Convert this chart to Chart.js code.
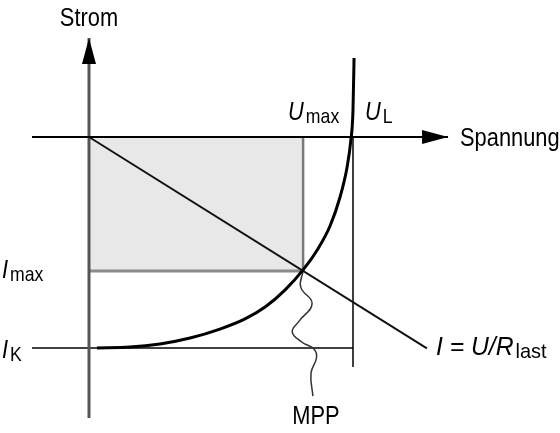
<!DOCTYPE html>
<html>
<head>
<meta charset="utf-8">
<script src="https://cdn.jsdelivr.net/npm/chart.js@4/dist/chart.umd.min.js"></script>
<style>
  html, body { margin: 0; padding: 0; background: #fff; }
  #kennlinie { display: block; }
</style>
</head>
<body>
<canvas id="kennlinie" width="560" height="433"></canvas>
<script>
// Kennlinie (Spannung normiert auf U_L = 1, Strom auf I_K = -1)
var spannung = [0.03, 0.155, 0.269, 0.383, 0.496, 0.591, 0.667, 0.742, 0.811, 0.867, 0.913, 0.951, 0.977, 0.992, 1.0, 1.004];
var strom    = [-0.995, -0.991, -0.976, -0.948, -0.906, -0.858, -0.802, -0.722, -0.627, -0.528, -0.42, -0.283, -0.146, -0.014, 0.127, 0.373];

// Kennwerte
var uMax = 0.811;
var uL = 1.0;
var iMax = -0.632;
var iK = -0.995;

// Lastgerade I = U/R_last
var lastU = [0, 1.28];
var lastI = [0, -0.997];

// Hinweislinie MPP (geschlaengelt)
var mppU = [0.811, 0.802, 0.845, 0.795, 0.77, 0.807, 0.852, 0.862, 0.841, 0.848];
var mppI = [-0.632, -0.708, -0.785, -0.87, -0.92, -0.968, -1.0, -1.04, -1.113, -1.222];

// Achsen (Anfang, Pfeilspitze)
var achseU = [-0.216, 1.36];
var achseI = [-1.325, 0.467];
var ikLinie = [-0.216, 1.0];
var ulLinie = [0, -1.085];

function pts(xs, ys) {
    return xs.map(function(x, i){ return {x: x, y: ys[i]}; });
}

var FONT = '"Liberation Sans", Arial, sans-serif';
var SCHMAL = 0.84; // schmale Schrift wie im Original

// Beschriftung + Pfeilspitzen
var beschriftung = {
    id: 'beschriftung',
    afterDatasetsDraw: function(chart) {
        var ctx = chart.ctx;
        var sx = chart.scales.x, sy = chart.scales.y;
        var x0 = sx.getPixelForValue(0), y0 = sy.getPixelForValue(0);

        // Pfeilspitzen
        ctx.save();
        ctx.fillStyle = '#000';
        var tipX = sx.getPixelForValue(achseU[1]);
        ctx.beginPath();
        ctx.moveTo(tipX, y0);
        ctx.lineTo(tipX - 26, y0 - 7);
        ctx.lineTo(tipX - 26, y0 + 7);
        ctx.closePath();
        ctx.fill();
        var tipY = sy.getPixelForValue(achseI[1]);
        ctx.beginPath();
        ctx.moveTo(x0, tipY);
        ctx.lineTo(x0 - 7, tipY + 26);
        ctx.lineTo(x0 + 7, tipY + 26);
        ctx.closePath();
        ctx.fill();
        ctx.restore();

        function label(x, y, main, sub, italic, align, breite) {
            var k = breite || SCHMAL;
            ctx.save();
            ctx.fillStyle = '#000';
            ctx.textBaseline = 'alphabetic';
            var f1 = (italic ? 'italic ' : '') + '26px ' + FONT;
            var f2 = '21px ' + FONT;
            ctx.font = f1;
            var w1 = ctx.measureText(main).width * k;
            ctx.font = f2;
            var w2 = sub ? ctx.measureText(sub).width * k + 2 : 0;
            var left = x;
            if (align === 'center') left = x - (w1 + w2) / 2;
            ctx.translate(left, y);
            ctx.scale(k, 1);
            ctx.font = f1;
            ctx.fillText(main, 0, 0);
            if (sub) {
                ctx.font = f2;
                ctx.fillText(sub, (w1 + 2) / k, 3);
            }
            ctx.restore();
        }

        label(x0, tipY - 12, 'Strom', '', false, 'center');
        label(tipX + 12, y0 + 9, 'Spannung', '', false);
        label(sx.getPixelForValue(uMax) - 15, y0 - 17, 'U', 'max', true);
        label(sx.getPixelForValue(uL) + 12, y0 - 17, 'U', 'L', true);
        label(2, sy.getPixelForValue(iMax) + 7, 'I', 'max', true);
        label(2, sy.getPixelForValue(iK) + 10, 'I', 'K', true);
        label(sx.getPixelForValue(lastU[1]) + 9, sy.getPixelForValue(lastI[1]) + 7, 'I = U/R', 'last', true, 'left', 0.95);
        label(sx.getPixelForValue(mppU[mppU.length - 1]) + 3, sy.getPixelForValue(mppI[mppI.length - 1]) + 28, 'MPP', '', false, 'center');
    }
};

var ctx = document.getElementById('kennlinie').getContext('2d');
var chart = new Chart(ctx, {
    type: 'scatter',
    data: {
        datasets: [
            {   // Kennlinie
                data: pts(spannung, strom),
                showLine: true, borderColor: '#000', borderWidth: 3,
                cubicInterpolationMode: 'monotone', pointRadius: 0, order: 1
            },
            {   // Lastgerade
                data: pts(lastU, lastI),
                showLine: true, borderColor: '#111', borderWidth: 2, pointRadius: 0, order: 2
            },
            {   // MPP Hinweis
                data: pts(mppU, mppI),
                showLine: true, borderColor: '#333', borderWidth: 1.5, tension: 0.45, pointRadius: 0, order: 3
            },
            {   // Spannungsachse
                data: pts(achseU, [0, 0]),
                showLine: true, borderColor: '#000', borderWidth: 2, pointRadius: 0, order: 4
            },
            {   // Stromachse
                data: pts([0, 0], achseI),
                showLine: true, borderColor: '#555', borderWidth: 3, pointRadius: 0, order: 5
            },
            {   // I_K Linie
                data: pts(ikLinie, [iK, iK]),
                showLine: true, borderColor: '#000', borderWidth: 1.5, pointRadius: 0, order: 6
            },
            {   // U_L Linie
                data: pts([uL, uL], ulLinie),
                showLine: true, borderColor: '#000', borderWidth: 1.5, pointRadius: 0, order: 7
            },
            {   // U_max Linie
                data: pts([uMax, uMax], [0, iMax]),
                showLine: true, borderColor: '#7a7a7a', borderWidth: 2.5, pointRadius: 0, order: 8
            },
            {   // Leistungsflaeche
                data: pts([0, uMax], [iMax, iMax]),
                showLine: true, borderColor: '#8a8a8a', borderWidth: 3, pointRadius: 0,
                fill: {value: 0}, backgroundColor: '#e8e8e8', order: 9
            }
        ]
    },
    options: {
        responsive: false,
        animation: false,
        layout: { padding: 0 },
        plugins: { legend: { display: false }, tooltip: { enabled: false } },
        scales: {
            x: { type: 'linear', display: false, min: -0.3371, max: 1.7841 },
            y: { type: 'linear', display: false, min: -1.3962, max: 0.6462 }
        }
    },
    plugins: [beschriftung]
});
</script>
</body>
</html>
